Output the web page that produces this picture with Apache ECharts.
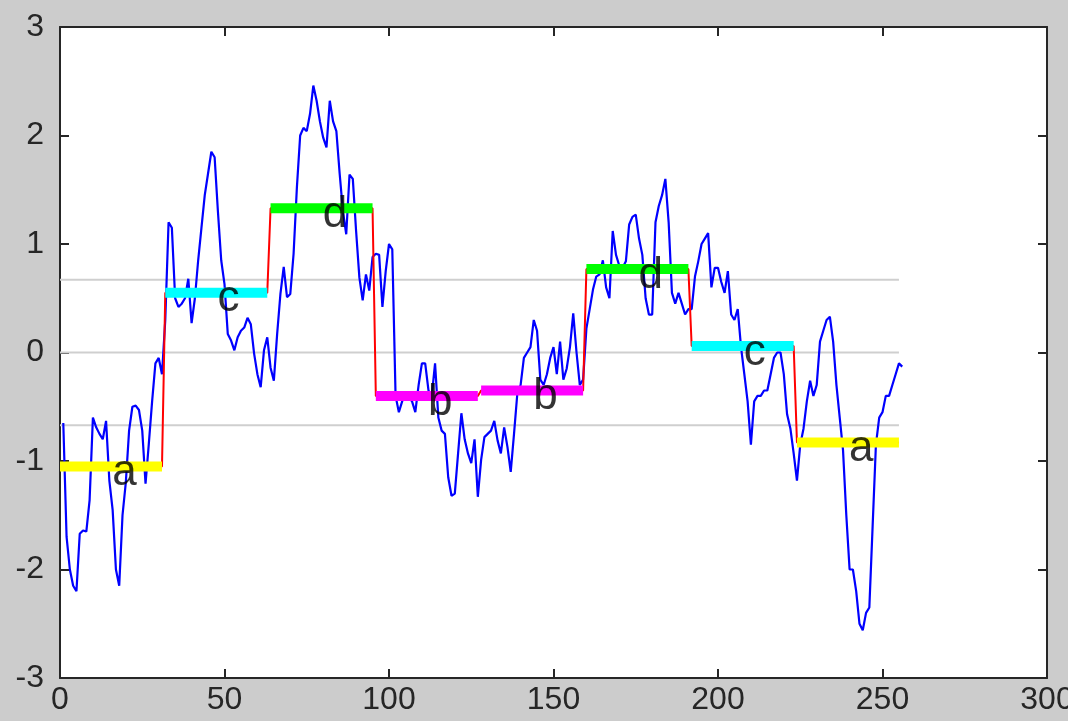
<!DOCTYPE html>
<html>
<head>
<meta charset="utf-8">
<title>SAX symbolic representation</title>
<script src="https://cdn.jsdelivr.net/npm/echarts@6/dist/echarts.min.js"></script>
<style>
  html, body { margin: 0; padding: 0; background: #cccccc; overflow: hidden; width: 1068px; height: 721px; }
  #chart { position: absolute; left: 0; top: 0; width: 1068px; height: 721px; }
</style>
</head>
<body>
<div id="chart"></div>
<script>
// Time series (samples 1..256)
const signal = [
  -0.65, -1.70, -2.00, -2.15, -2.20, -1.67, -1.64, -1.65, -1.36, -0.60,
  -0.69, -0.75, -0.80, -0.63, -1.18, -1.45, -2.00, -2.15, -1.50, -1.20,
  -0.72, -0.50, -0.49, -0.53, -0.72, -1.21, -0.84, -0.45, -0.10, -0.05,
  -0.20,  0.30,  1.20,  1.15,  0.50,  0.42,  0.45,  0.50,  0.68,  0.27,
   0.50,  0.85,  1.15,  1.45,  1.65,  1.85,  1.80,  1.30,  0.85,  0.63,
   0.17,  0.11,  0.02,  0.14,  0.20,  0.23,  0.32,  0.26, -0.01, -0.20,
  -0.32,  0.02,  0.14, -0.14, -0.26,  0.17,  0.54,  0.79,  0.51,  0.54,
   0.91,  1.52,  2.00,  2.07,  2.04,  2.20,  2.46,  2.32,  2.13,  1.98,
   1.89,  2.32,  2.13,  2.04,  1.65,  1.30,  1.09,  1.64,  1.60,  1.12,
   0.69,  0.48,  0.72,  0.57,  0.88,  0.91,  0.90,  0.42,  0.75,  1.00,
   0.95, -0.40, -0.55, -0.45, -0.38, -0.42, -0.45, -0.55, -0.30, -0.10,
  -0.10, -0.35, -0.40, -0.10, -0.60, -0.72, -0.75, -1.15, -1.32, -1.30,
  -0.93, -0.56, -0.80, -0.93, -1.02, -0.80, -1.33, -0.99, -0.78, -0.75,
  -0.72, -0.63, -0.81, -0.93, -0.69, -0.87, -1.10, -0.75, -0.38, -0.30,
  -0.05,  0.00,  0.05,  0.30,  0.20, -0.25, -0.30, -0.20, -0.05,  0.05,
  -0.20,  0.10, -0.25, -0.15,  0.05,  0.36,  0.00, -0.30, -0.25,  0.22,
   0.40,  0.58,  0.70,  0.72,  0.85,  0.60,  0.50,  1.12,  0.90,  0.80,
   0.78,  0.84,  1.18,  1.25,  1.27,  1.05,  0.90,  0.50,  0.35,  0.35,
   1.20,  1.35,  1.45,  1.60,  1.20,  0.55,  0.45,  0.55,  0.45,  0.35,
   0.40,  0.40,  0.70,  0.84,  1.00,  1.05,  1.10,  0.60,  0.78,  0.78,
   0.65,  0.55,  0.75,  0.35,  0.30,  0.40,  0.05, -0.20, -0.45, -0.85,
  -0.45, -0.40, -0.40, -0.35, -0.35, -0.20, -0.05,  0.00,  0.00, -0.20,
  -0.57, -0.70, -0.93, -1.18, -0.85, -0.70, -0.45, -0.26, -0.40, -0.30,
   0.10,  0.20,  0.30,  0.33,  0.10, -0.30, -0.60, -0.90, -1.50, -2.00,
  -2.00, -2.20, -2.50, -2.56, -2.40, -2.35, -1.60, -0.85, -0.60, -0.55,
  -0.40, -0.40, -0.30, -0.20, -0.10, -0.13
];

// Piecewise aggregate approximation: one mean per frame of 32 samples
const frameLength = 32;
const paaValues = [-1.05, 0.55, 1.33, -0.40, -0.35, 0.77, 0.06, -0.83];
const saxSymbols = ['a', 'c', 'd', 'b', 'b', 'd', 'c', 'a'];

// Gaussian breakpoints for a 4-letter alphabet
const breakpoints = [-0.67, 0, 0.67];

// Axis ticks
const xTicks = [0, 50, 100, 150, 200, 250, 300];
const yTicks = [-3, -2, -1, 0, 1, 2, 3];

const symbolColors = { a: '#ffff00', b: '#ff00ff', c: '#00ffff', d: '#00ff00' };
const axisColor = '#262626';
const labelFont = 'Liberation Sans, Arial, sans-serif';

const seriesEnd = signal.length - 1;

const breakpointSeries = breakpoints.map(b => ({
  type: 'line',
  data: [[0, b], [seriesEnd, b]],
  showSymbol: false,
  silent: true,
  lineStyle: { color: '#cfcfcf', width: 2 },
  z: 1
}));

const signalSeries = {
  type: 'line',
  data: signal.map((v, i) => [i + 1, v]),
  showSymbol: false,
  lineStyle: { color: '#0000ff', width: 2.2 },
  z: 2
};

const stepPoints = [];
paaValues.forEach((v, k) => {
  stepPoints.push([k * frameLength, v]);
  stepPoints.push([k * frameLength + frameLength - 1, v]);
});
const stepSeries = {
  type: 'line',
  data: stepPoints,
  showSymbol: false,
  lineStyle: { color: '#ff0000', width: 2 },
  z: 3
};

const frameSeries = paaValues.map((v, k) => ({
  type: 'line',
  data: [[k * frameLength, v], [k * frameLength + frameLength - 1, v]],
  showSymbol: false,
  lineStyle: { color: symbolColors[saxSymbols[k]], width: 10, cap: 'butt' },
  z: 4
}));

const letterSeries = {
  type: 'scatter',
  data: paaValues.map((v, k) => ({ value: [k * frameLength + frameLength / 2, v], name: saxSymbols[k] })),
  symbolSize: 1,
  itemStyle: { color: 'rgba(0,0,0,0)' },
  label: {
    show: true,
    formatter: p => p.name,
    position: [0, 0],
    align: 'left',
    verticalAlign: 'middle',
    offset: [0, 7],
    fontFamily: labelFont,
    fontSize: 44,
    color: '#000'
  },
  z: 5
};

function xAxisDef(pos) {
  return {
    type: 'value', position: pos, min: xTicks[0], max: xTicks[xTicks.length - 1], interval: 50,
    axisLine: { show: true, onZero: false, lineStyle: { color: axisColor, width: 2 } },
    axisTick: { show: true, inside: true, length: 9, lineStyle: { color: axisColor, width: 2 } },
    axisLabel: {
      show: pos === 'bottom', margin: 6, fontSize: 32, color: axisColor, fontFamily: labelFont,
      showMinLabel: true, showMaxLabel: true
    },
    splitLine: { show: false }
  };
}
function yAxisDef(pos) {
  return {
    type: 'value', position: pos, min: yTicks[0], max: yTicks[yTicks.length - 1], interval: 1,
    axisLine: { show: true, onZero: false, lineStyle: { color: axisColor, width: 2 } },
    axisTick: { show: true, inside: true, length: 9, lineStyle: { color: axisColor, width: 2 } },
    axisLabel: {
      show: pos === 'left', margin: 16, fontSize: 32, color: axisColor, fontFamily: labelFont,
      showMinLabel: true, showMaxLabel: true
    },
    splitLine: { show: false }
  };
}

const chart = echarts.init(document.getElementById('chart'), null, { renderer: 'canvas', width: 1068, height: 721 });
chart.setOption({
  animation: false,
  backgroundColor: '#cccccc',
  grid: {
    left: 60, right: 21, top: 27, bottom: 43,
    outerBoundsMode: 'none', containLabel: false,
    show: true, backgroundColor: '#ffffff', borderWidth: 0
  },
  xAxis: [xAxisDef('bottom'), xAxisDef('top')],
  yAxis: [yAxisDef('left'), yAxisDef('right')],
  series: [...breakpointSeries, signalSeries, stepSeries, ...frameSeries, letterSeries]
});
</script>
</body>
</html>
